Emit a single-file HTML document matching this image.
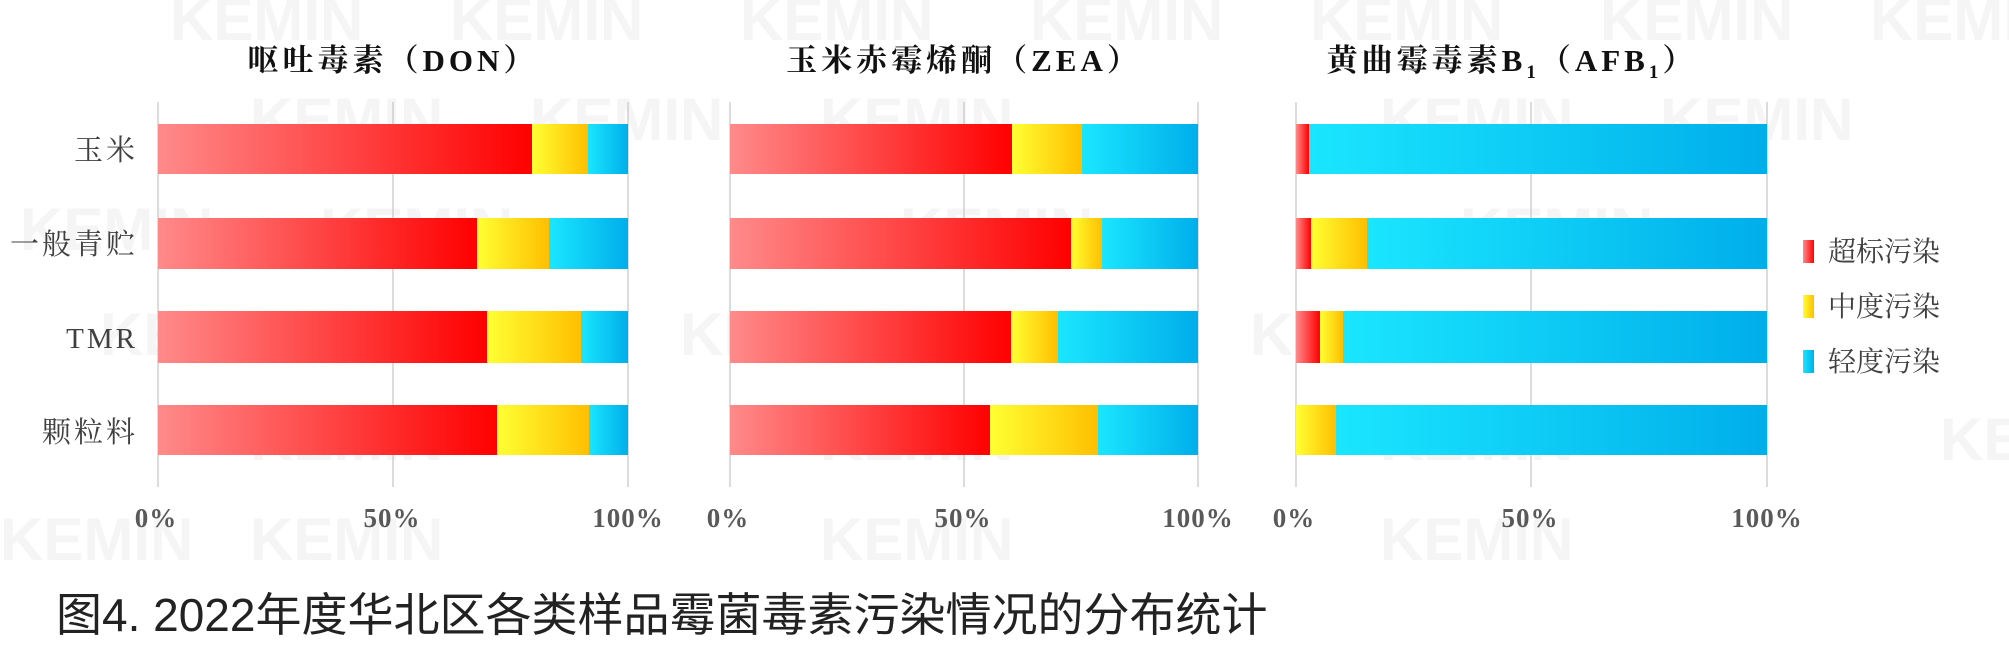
<!DOCTYPE html>
<html><head><meta charset="utf-8"><style>
html,body{margin:0;padding:0;background:#fff;}
svg{display:block;}
.t{font-family:"Liberation Serif","Noto Serif CJK SC",serif;font-weight:bold;font-size:31px;fill:#111;letter-spacing:4px;}
.c{font-family:"Liberation Serif","Noto Serif CJK SC",serif;font-size:29px;fill:#404040;letter-spacing:3px;}
.k{font-family:"Liberation Serif","Noto Serif CJK SC",serif;font-weight:bold;font-size:27px;fill:#595959;letter-spacing:1px;}
.l{font-family:"Liberation Serif","Noto Serif CJK SC",serif;font-size:28px;fill:#404040;}
.cap{font-family:"Liberation Sans","Noto Sans CJK SC",sans-serif;font-size:46px;fill:#222;}
.w{font-family:"Liberation Sans",sans-serif;font-weight:bold;font-size:60px;fill:#f5f5f5;}
</style></head><body>
<svg width="2009" height="649" viewBox="0 0 2009 649" xmlns="http://www.w3.org/2000/svg">
<defs>
<linearGradient id="r" x1="0" x2="1"><stop offset="0" stop-color="#ff8a8a"/><stop offset="1" stop-color="#ff0000"/></linearGradient>
<linearGradient id="y" x1="0" x2="1"><stop offset="0" stop-color="#ffff33"/><stop offset="1" stop-color="#ffbf00"/></linearGradient>
<linearGradient id="b" x1="0" x2="1"><stop offset="0" stop-color="#1ae6ff"/><stop offset="1" stop-color="#00aeea"/></linearGradient>
</defs>
<g class="w">
<text x="170" y="40">KEMIN</text><text x="450" y="40">KEMIN</text><text x="740" y="40">KEMIN</text><text x="1030" y="40">KEMIN</text><text x="1310" y="40">KEMIN</text><text x="1600" y="40">KEMIN</text><text x="1870" y="40">KEMIN</text>
<text x="250" y="140">KEMIN</text><text x="530" y="140">KEMIN</text><text x="820" y="140">KEMIN</text><text x="1380" y="140">KEMIN</text><text x="1660" y="140">KEMIN</text>
<text x="20" y="250">KEMIN</text><text x="320" y="250">KEMIN</text><text x="900" y="250">KEMIN</text><text x="1460" y="250">KEMIN</text>
<text x="100" y="355">KEMIN</text><text x="390" y="355">KEMIN</text><text x="680" y="355">KEMIN</text><text x="1250" y="355">KEMIN</text><text x="1540" y="355">KEMIN</text>
<text x="250" y="460">KEMIN</text><text x="820" y="460">KEMIN</text><text x="1380" y="460">KEMIN</text><text x="1940" y="460">KEMIN</text>
<text x="0" y="560">KEMIN</text><text x="250" y="560">KEMIN</text><text x="820" y="560">KEMIN</text><text x="1380" y="560">KEMIN</text>
</g>
<g stroke="#d0d0d0" stroke-width="1.5">
<line x1="158" y1="102" x2="158" y2="487"/><line x1="393" y1="102" x2="393" y2="487"/><line x1="628" y1="102" x2="628" y2="487"/>
<line x1="730" y1="102" x2="730" y2="487"/><line x1="964" y1="102" x2="964" y2="487"/><line x1="1198" y1="102" x2="1198" y2="487"/>
<line x1="1296" y1="102" x2="1296" y2="487"/><line x1="1531" y1="102" x2="1531" y2="487"/><line x1="1767" y1="102" x2="1767" y2="487"/>
</g>
<g>
<rect x="158" y="124" width="374" height="50" fill="url(#r)"/><rect x="532" y="124" width="56" height="50" fill="url(#y)"/><rect x="588" y="124" width="40" height="50" fill="url(#b)"/>
<rect x="158" y="218" width="319" height="51" fill="url(#r)"/><rect x="477" y="218" width="72" height="51" fill="url(#y)"/><rect x="549" y="218" width="79" height="51" fill="url(#b)"/>
<rect x="158" y="311" width="329" height="52" fill="url(#r)"/><rect x="487" y="311" width="94" height="52" fill="url(#y)"/><rect x="581" y="311" width="47" height="52" fill="url(#b)"/>
<rect x="158" y="405" width="339" height="50" fill="url(#r)"/><rect x="497" y="405" width="92" height="50" fill="url(#y)"/><rect x="589" y="405" width="39" height="50" fill="url(#b)"/>
</g>
<g>
<rect x="730" y="124" width="282" height="50" fill="url(#r)"/><rect x="1012" y="124" width="70" height="50" fill="url(#y)"/><rect x="1082" y="124" width="116" height="50" fill="url(#b)"/>
<rect x="730" y="218" width="341" height="51" fill="url(#r)"/><rect x="1071" y="218" width="31" height="51" fill="url(#y)"/><rect x="1102" y="218" width="96" height="51" fill="url(#b)"/>
<rect x="730" y="311" width="281" height="52" fill="url(#r)"/><rect x="1011" y="311" width="47" height="52" fill="url(#y)"/><rect x="1058" y="311" width="140" height="52" fill="url(#b)"/>
<rect x="730" y="405" width="260" height="50" fill="url(#r)"/><rect x="990" y="405" width="108" height="50" fill="url(#y)"/><rect x="1098" y="405" width="100" height="50" fill="url(#b)"/>
</g>
<g>
<rect x="1296" y="124" width="13" height="50" fill="url(#r)"/><rect x="1309" y="124" width="458" height="50" fill="url(#b)"/>
<rect x="1296" y="218" width="15" height="51" fill="url(#r)"/><rect x="1311" y="218" width="56" height="51" fill="url(#y)"/><rect x="1367" y="218" width="400" height="51" fill="url(#b)"/>
<rect x="1296" y="311" width="24" height="52" fill="url(#r)"/><rect x="1320" y="311" width="23" height="52" fill="url(#y)"/><rect x="1343" y="311" width="424" height="52" fill="url(#b)"/>
<rect x="1296" y="405" width="40" height="50" fill="url(#y)"/><rect x="1336" y="405" width="431" height="50" fill="url(#b)"/>
</g>
<text class="t" x="393" y="71" text-anchor="middle">呕吐毒素（DON）</text>
<text class="t" x="964" y="71" text-anchor="middle">玉米赤霉烯酮（ZEA）</text>
<text class="t" x="1512" y="71" text-anchor="middle">黄曲霉毒素B<tspan font-size="19" dy="7">1</tspan><tspan dy="-7">（AFB</tspan><tspan font-size="19" dy="7">1</tspan><tspan dy="-7">）</tspan></text>
<g class="c" text-anchor="end">
<text x="138" y="160">玉米</text>
<text x="138" y="254">一般青贮</text>
<text x="138" y="348">TMR</text>
<text x="138" y="442">颗粒料</text>
</g>
<g class="k" text-anchor="middle">
<text x="156" y="527">0%</text><text x="392" y="527">50%</text><text x="628" y="527">100%</text>
<text x="728" y="527">0%</text><text x="963" y="527">50%</text><text x="1198" y="527">100%</text>
<text x="1294" y="527">0%</text><text x="1530" y="527">50%</text><text x="1767" y="527">100%</text>
</g>
<rect x="1803" y="240" width="11" height="23" fill="url(#r)"/>
<rect x="1803" y="295" width="11" height="23" fill="url(#y)"/>
<rect x="1803" y="350" width="11" height="23" fill="url(#b)"/>
<text class="l" x="1828" y="261">超标污染</text>
<text class="l" x="1828" y="316">中度污染</text>
<text class="l" x="1828" y="371">轻度污染</text>
<text class="cap" x="56" y="631">图4. 2022年度华北区各类样品霉菌毒素污染情况的分布统计</text>
</svg>
</body></html>
